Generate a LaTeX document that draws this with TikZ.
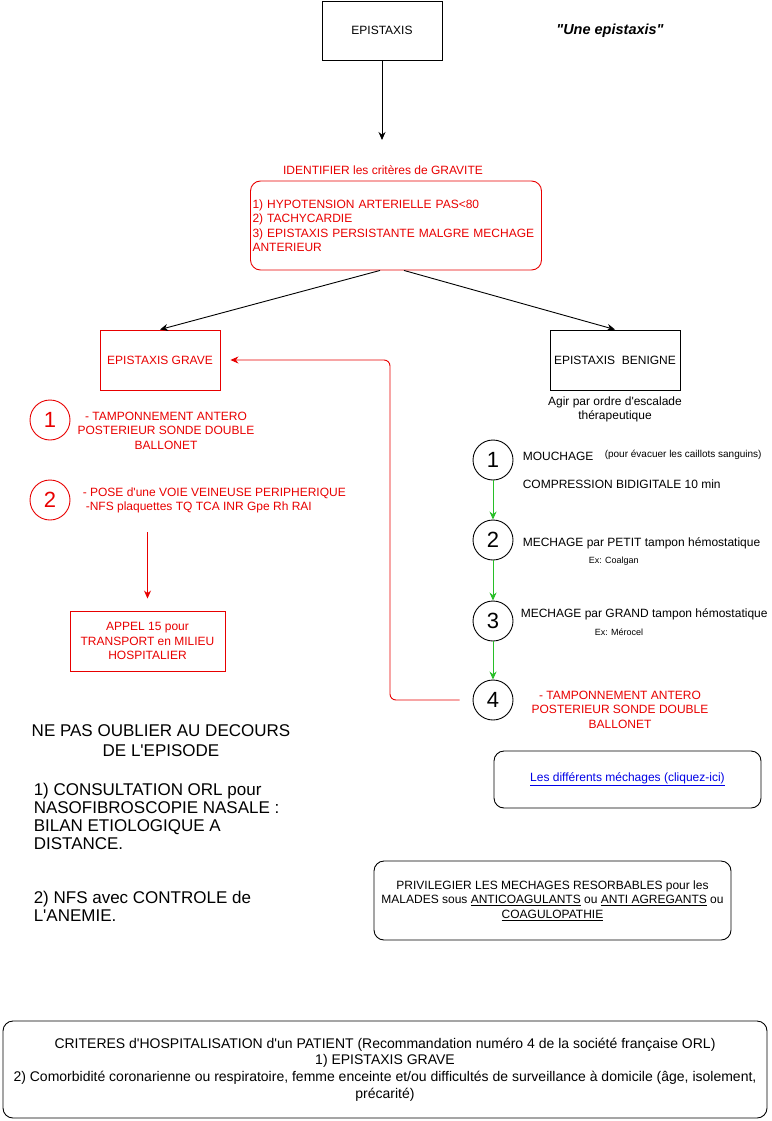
\documentclass[tikz,border=0pt]{standalone}
\usepackage{fontspec}
\setmainfont{Liberation Sans}[Ligatures=TeXOff]
\usetikzlibrary{positioning, arrows.meta}
\definecolor{alarm}{RGB}{232,0,0}
\definecolor{calm}{RGB}{40,190,40}
\definecolor{link}{RGB}{0,0,230}
\tikzset{
  body_font/.style = {font=\fontsize{12}{14.5}\selectfont},
  note_font/.style = {font=\fontsize{9}{11}\selectfont},
  memo_font/.style = {font=\fontsize{17}{18}\selectfont},
  mark_font/.style = {font=\fontsize{22}{24}\selectfont}
}
\tikzset{
  plain_box/.style = {body_font, draw, align=center},
  red_box/.style = {plain_box, draw=alarm, text=alarm},
  round_box/.style = {body_font, draw, rounded corners=10, align=center},
  step_mark/.style = {mark_font, draw, circle, minimum size=40, inner sep=0},
  red_mark/.style = {step_mark, draw=alarm, text=alarm},
  plain_text/.style = {body_font, align=center},
  red_text/.style = {plain_text, text=alarm},
  arrow/.style = {-{Stealth[length=8pt, width=7pt]}},
  red_arrow/.style = {arrow, draw=alarm},
  green_arrow/.style = {arrow, draw=calm}
}
\begin{document}
\begin{tikzpicture}[x=1pt, y=-1pt, line width=0.9pt]
        \useasboundingbox (0,0) rectangle (771,1121);

        % Entry
        \node[plain_box, minimum width=120, minimum height=59] (epi) at (382,30.5) {EPISTAXIS};
        \node[font=\fontsize{14.5}{16}\selectfont\bfseries\itshape] (epi_note) at (610,31) {"Une epistaxis"};
        \coordinate (epi_end) at (382,140);

        % Gravity criteria
        \node[red_text] (crit_title) at (383,170) {IDENTIFIER les critères de GRAVITE};
        \node[round_box, draw=alarm, text=alarm, align=left, text width=287, minimum height=89, inner xsep=2] (crit) at (396,225.5) {
            1) HYPOTENSION ARTERIELLE PAS<80\\
            2) TACHYCARDIE\\
            3) EPISTAXIS PERSISTANTE MALGRE MECHAGE\\
            ANTERIEUR
            };

        % Two branches
        \node[red_box, minimum width=120, minimum height=60] (grave) at (160,360) {EPISTAXIS GRAVE};
        \node[plain_box, minimum width=130, minimum height=60] (benigne) at (615,360) {EPISTAXIS\ \ BENIGNE};
        \node[plain_text] (benigne_note) at (615,409.5) {Agir par ordre d'escalade\\thérapeutique};

        % Severe path
        \node[red_mark] (g1) at (50,420) {1};
        \node[red_text] (g1_text) at (166,430.5) {- TAMPONNEMENT ANTERO\\POSTERIEUR SONDE DOUBLE\\BALLONET};
        \node[red_mark] (g2) at (50,500) {2};
        \node[red_text, align=left, anchor=west] (g2_text) at (79,500.5) {
            - POSE d'une VOIE VEINEUSE PERIPHERIQUE\\
            \hspace{3pt}-NFS plaquettes TQ TCA INR Gpe Rh RAI
            };
        \node[red_box, minimum width=155, minimum height=60] (appel) at (147.5,641) {APPEL 15 pour\\TRANSPORT en MILIEU\\HOSPITALIER};

        % Benign path
        \node[step_mark] (b1) at (493,460) {1};
        \node[step_mark] (b2) at (493,540) {2};
        \node[step_mark] (b3) at (493,621) {3};
        \node[step_mark] (b4) at (493,700) {4};

        \node[plain_text, anchor=west] (b1_text) at (519,456) {MOUCHAGE};
        \node[plain_text, font=\fontsize{10}{12}\selectfont, anchor=west] (b1_note) at (601,455) {(pour évacuer les caillots sanguins)};
        \node[plain_text, anchor=west] (b1_more) at (519,484) {COMPRESSION BIDIGITALE 10 min};
        \node[plain_text, anchor=west] (b2_text) at (519,543) {MECHAGE par PETIT tampon hémostatique};
        \node[plain_text, note_font, anchor=west] (b2_note) at (585,561) {Ex: Coalgan};
        \node[plain_text, anchor=west] (b3_text) at (517,614) {MECHAGE par GRAND tampon hémostatique};
        \node[plain_text, note_font, anchor=west] (b3_note) at (591,632) {Ex: Mérocel};
        \node[red_text] (b4_text) at (620,709.5) {- TAMPONNEMENT ANTERO\\POSTERIEUR SONDE DOUBLE\\BALLONET};
        \coordinate (loop) at (390,360);

        % Reminders
        \node[memo_font, font=\fontsize{17}{20}\selectfont, align=center] (memo_title) at (161,741) {NE PAS OUBLIER AU DECOURS\\DE L'EPISODE};
        \node[memo_font, align=left, anchor=west] (memo_1) at (30,816) {
            1) CONSULTATION ORL pour\\
            NASOFIBROSCOPIE NASALE :\\
            BILAN ETIOLOGIQUE A\\
            DISTANCE.
            };
        \node[memo_font, align=left, anchor=west] (memo_2) at (30,906) {2) NFS avec CONTROLE de\\L'ANEMIE.};

        % Side boxes
        \node[round_box, minimum width=267, minimum height=57] (link_box) at (627.5,779.5) {
            \textcolor{link}{\underline{Les différents méchages (cliquez-ici)}}};
        \node[round_box, font=\fontsize{12}{14.5}\selectfont, minimum width=357, minimum height=79] (resorb_box) at (552.5,900.5) {
            PRIVILEGIER LES MECHAGES RESORBABLES pour les\\
            MALADES sous \underline{ANTICOAGULANTS} ou \underline{ANTI AGREGANTS} ou\\
            \underline{COAGULOPATHIE}
            };
        \node[round_box, font=\fontsize{14}{16.7}\selectfont, minimum width=764, minimum height=97] (hosp_box) at (385,1069.5) {
            CRITERES d'HOSPITALISATION d'un PATIENT (Recommandation numéro 4 de la société française ORL)\\
            1) EPISTAXIS GRAVE\\
            2) Comorbidité coronarienne ou respiratoire, femme enceinte et/ou difficultés de surveillance à domicile (âge, isolement,\\
            précarité)
            };

        % Arrows and lines
        \draw[arrow] (epi) -- (epi_end);
        \draw[arrow] ([xshift=-16pt]crit.south) -- (grave.north);
        \draw[arrow] ([xshift=8pt]crit.south) -- (benigne.north);

        \draw[red_arrow, shorten <=15pt, shorten >=12pt] (g2_text.south -| appel.north) -- (appel.north);
        \draw[red_arrow, rounded corners=6, shorten >=10pt] ([xshift=-13pt]b4.west) -| (loop) -- (grave.east);

        \foreach \a/\b in {b1/b2, b2/b3, b3/b4}
            \draw[green_arrow] (\a) -- (\b);
    \end{tikzpicture}
\end{document}
